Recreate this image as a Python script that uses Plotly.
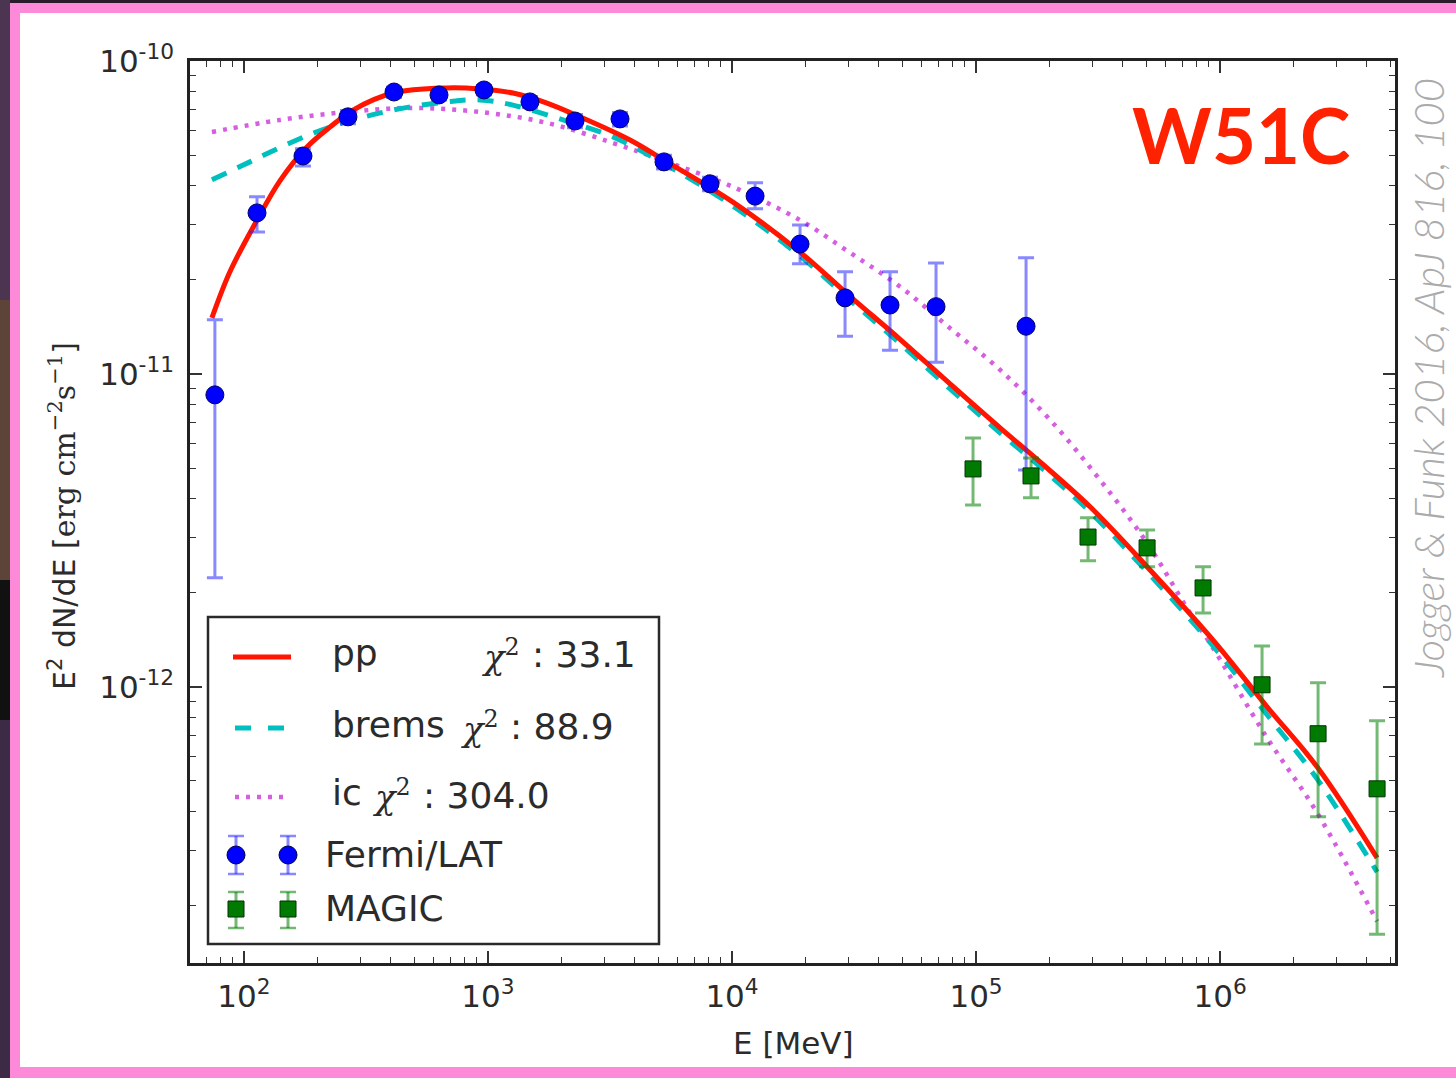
import plotly.graph_objects as go
import math

# ---------------- data ----------------
fermi_E = [76.0, 113.1, 174.5, 266.8, 411.9, 629.9, 963.0, 1486, 2273, 3475,
           5264, 8124, 12430, 19000, 29050, 44410, 68550, 160300]
fermi_F = [8.57e-12, 3.27e-11, 4.97e-11, 6.63e-11, 7.96e-11, 7.79e-11, 8.08e-11,
           7.40e-11, 6.43e-11, 6.53e-11, 4.76e-11, 4.05e-11, 3.70e-11, 2.60e-11,
           1.75e-11, 1.66e-11, 1.64e-11, 1.42e-11]
fermi_hi = [1.49e-11, 3.68e-11, 5.24e-11, 6.95e-11, 8.25e-11, 8.05e-11, 8.35e-11,
            7.70e-11, 6.75e-11, 6.85e-11, 5.00e-11, 4.25e-11, 4.08e-11, 2.99e-11,
            2.12e-11, 2.12e-11, 2.26e-11, 2.35e-11]
fermi_lo = [2.23e-12, 2.84e-11, 4.62e-11, 6.30e-11, 7.65e-11, 7.50e-11, 7.80e-11,
            7.10e-11, 6.12e-11, 6.20e-11, 4.52e-11, 3.85e-11, 3.37e-11, 2.25e-11,
            1.32e-11, 1.19e-11, 1.09e-11, 4.93e-12]

magic_E = [97200, 168000, 287700, 502200, 851700, 1.486e6, 2.521e6, 4.399e6]
magic_F = [4.97e-12, 4.72e-12, 3.01e-12, 2.78e-12, 2.07e-12, 1.015e-12, 7.08e-13, 4.72e-13]
magic_hi = [6.24e-12, 5.39e-12, 3.47e-12, 3.17e-12, 2.42e-12, 1.35e-12, 1.03e-12, 7.79e-13]
magic_lo = [3.81e-12, 4.02e-12, 2.53e-12, 2.42e-12, 1.72e-12, 6.57e-13, 3.84e-13, 1.62e-13]

pp_E = [73.9, 87.6, 113.1, 140.4, 181.2, 225.2, 279.7, 408.1, 679.2, 927.3, 1266, 1745,
        2382, 3819, 5414, 10090, 19000, 30450, 48820, 78250, 125450, 182950, 293300,
        502200, 936100, 1.558e6, 2.497e6, 4.399e6]
pp_F = [1.51e-11, 2.12e-11, 3.10e-11, 4.14e-11, 5.31e-11, 6.15e-11, 6.97e-11, 7.90e-11,
        8.20e-11, 8.14e-11, 7.90e-11, 7.34e-11, 6.63e-11, 5.59e-11, 4.76e-11, 3.54e-11,
        2.45e-11, 1.77e-11, 1.29e-11, 9.29e-12, 6.72e-12, 5.23e-12, 3.76e-12, 2.42e-12,
        1.41e-12, 8.63e-13, 5.55e-13, 2.84e-13]

brems_E = [73.9, 105.8, 154.3, 225.2, 408.1, 679.2, 927.3, 1266, 2030, 3253, 5214, 10090,
           19000, 30450, 48820, 78250, 125450, 182950, 293300, 502200, 936100, 1.558e6,
           2.497e6, 4.399e6]
brems_F = [4.17e-11, 4.76e-11, 5.47e-11, 6.15e-11, 6.97e-11, 7.40e-11, 7.51e-11, 7.23e-11,
           6.48e-11, 5.72e-11, 4.72e-11, 3.44e-11, 2.38e-11, 1.72e-11, 1.25e-11, 8.96e-12,
           6.48e-12, 5.05e-12, 3.62e-12, 2.33e-12, 1.35e-12, 8.14e-13, 5.08e-13, 2.56e-13]

ic_E = [73.9, 140.4, 264.3, 492.7, 927.3, 1745, 3253, 5414, 10090, 19000, 30450, 48820,
        78250, 125450, 201100, 322300, 502200, 753400, 936100, 1.529e6, 2.497e6, 4.399e6]
ic_F = [5.93e-11, 6.48e-11, 6.87e-11, 7.08e-11, 6.87e-11, 6.34e-11, 5.47e-11, 4.76e-11,
        3.96e-11, 3.10e-11, 2.44e-11, 1.90e-11, 1.40e-11, 1.03e-11, 7.13e-12, 4.58e-12,
        2.88e-12, 1.72e-12, 1.33e-12, 7.03e-13, 3.96e-13, 1.78e-13]

x_tick_vals = [1e2, 1e3, 1e4, 1e5, 1e6]
x_tick_text = ["10<sup>2</sup>", "10<sup>3</sup>", "10<sup>4</sup>", "10<sup>5</sup>", "10<sup>6</sup>"]
y_tick_vals = [1e-12, 1e-11, 1e-10]
y_tick_text = ["10<sup>-12</sup>", "10<sup>-11</sup>", "10<sup>-10</sup>"]

x_range = [60.1, 5.21e6]
y_range = [1.31e-13, 1e-10]

legend_rows = [
    ("pp", "33.1"),
    ("brems", "88.9"),
    ("ic", "304.0"),
]

# ---------------- layout helpers ----------------
L, R, T, B = 190, 1395, 61, 963
W, H = 1456, 1078


def px(x):
    return (x - L) / (R - L)


def py(y):
    return (B - y) / (B - T)


IC_COL = "rgba(200,40,215,0.75)"
fig = go.Figure()

# model curves
fig.add_trace(go.Scatter(x=ic_E, y=ic_F, mode="lines", line_shape="spline",
                         line=dict(color=IC_COL, width=4.5, dash="4px,7px"),
                         showlegend=False))
fig.add_trace(go.Scatter(x=brems_E, y=brems_F, mode="lines", line_shape="spline",
                         line=dict(color="#00bfbf", width=5, dash="16px,12px"),
                         showlegend=False))
fig.add_trace(go.Scatter(x=pp_E, y=pp_F, mode="lines", line_shape="spline",
                         line=dict(color="#ff1500", width=5), showlegend=False))

# data points
fig.add_trace(go.Scatter(
    x=fermi_E, y=fermi_F, mode="markers",
    marker=dict(symbol="circle", size=18, color="#0000ff", line=dict(color="#000066", width=1)),
    error_y=dict(type="data", symmetric=False,
                 array=[h - f for h, f in zip(fermi_hi, fermi_F)],
                 arrayminus=[f - l for f, l in zip(fermi_F, fermi_lo)],
                 color="rgba(40,40,255,0.55)", thickness=3, width=8),
    showlegend=False))
fig.add_trace(go.Scatter(
    x=magic_E, y=magic_F, mode="markers",
    marker=dict(symbol="square", size=16, color="#007a00", line=dict(color="#003300", width=1)),
    error_y=dict(type="data", symmetric=False,
                 array=[h - f for h, f in zip(magic_hi, magic_F)],
                 arrayminus=[f - l for f, l in zip(magic_F, magic_lo)],
                 color="rgba(0,128,0,0.55)", thickness=3, width=8),
    showlegend=False))

shapes = []
# outer frame (dark backdrop and pink border)
for (x0, x1, y0, y1, c) in [
    (0, W, 0, 3, "#2a1a2c"),
    (0, 10, 0, 300, "#4b3550"),
    (0, 10, 300, 580, "#5c4538"),
    (0, 10, 580, 720, "#111111"),
    (0, 10, 720, H, "#3d2b45"),
    (10, W, 3, 13, "#fd8ad9"),
    (10, 20, 3, H, "#fd8ad9"),
    (10, W, 1067, H, "#fd8ad9"),
]:
    shapes.append(dict(type="rect", xref="paper", yref="paper",
                       x0=px(x0), x1=px(x1), y0=py(y1), y1=py(y0),
                       fillcolor=c, line=dict(width=0), layer="above"))

# legend box
shapes.append(dict(type="rect", xref="paper", yref="paper",
                   x0=px(208), x1=px(659), y0=py(944), y1=py(617),
                   fillcolor="white", line=dict(color="#2a2a2a", width=2.5), layer="above"))
shapes.append(dict(type="line", xref="paper", yref="paper", x0=px(233), x1=px(291),
                   y0=py(657), y1=py(657), line=dict(color="#ff1500", width=5), layer="above"))
shapes.append(dict(type="line", xref="paper", yref="paper", x0=px(235), x1=px(284),
                   y0=py(728), y1=py(728), line=dict(color="#00bfbf", width=5, dash="16px,17px"),
                   layer="above"))
shapes.append(dict(type="line", xref="paper", yref="paper", x0=px(235), x1=px(290),
                   y0=py(797), y1=py(797),
                   line=dict(color=IC_COL, width=4.5, dash="4px,7px"), layer="above"))

for (cx, cy, top, bot, ecol, fcol, kind) in [
    (236, 855, 836, 874, "rgba(40,40,255,0.55)", "#0000ff", "circle"),
    (288, 855, 836, 874, "rgba(40,40,255,0.55)", "#0000ff", "circle"),
    (236, 909, 892, 928, "rgba(0,128,0,0.55)", "#007a00", "rect"),
    (288, 909, 892, 928, "rgba(0,128,0,0.55)", "#007a00", "rect"),
]:
    shapes.append(dict(type="line", xref="paper", yref="paper", x0=px(cx), x1=px(cx),
                       y0=py(bot), y1=py(top), line=dict(color=ecol, width=3), layer="above"))
    for yy in (top, bot):
        shapes.append(dict(type="line", xref="paper", yref="paper", x0=px(cx - 8), x1=px(cx + 8),
                           y0=py(yy), y1=py(yy), line=dict(color=ecol, width=2.5), layer="above"))
    r = 9 if kind == "circle" else 8
    shapes.append(dict(type=kind, xref="paper", yref="paper", x0=px(cx - r), x1=px(cx + r),
                       y0=py(cy + r), y1=py(cy - r), fillcolor=fcol,
                       line=dict(color="#000044" if kind == "circle" else "#003300", width=1),
                       layer="above"))

TXT = "#2b2b2b"
ann = []


def text(x, y, s, size=36, xanchor="left", family="DejaVu Sans", color=TXT, **kw):
    ann.append(dict(x=px(x), y=py(y), xref="paper", yref="paper", text=s, showarrow=False,
                    xanchor=xanchor, yanchor="middle",
                    font=dict(family=family, size=size, color=color), **kw))


CHI = "<i>χ</i><sup>2</sup>"
# legend texts
text(330, 652, legend_rows[0][0])
text(480, 655, CHI, family="DejaVu Serif", size=34)
text(530, 655, ": " + legend_rows[0][1])
text(330, 724, legend_rows[1][0])
text(459, 727, CHI, family="DejaVu Serif", size=34)
text(508, 727, ": " + legend_rows[1][1])
text(330, 792, legend_rows[2][0])
text(371, 795, CHI, family="DejaVu Serif", size=34)
text(421, 795, ": " + legend_rows[2][1])
text(323, 854, "Fermi/LAT")
text(323, 908, "MAGIC")

# axis titles
text(793, 1043, "E [MeV]", size=31, xanchor="center")
ann.append(dict(x=px(62), y=py(516), xref="paper", yref="paper",
                text="E<sup>2</sup> dN/dE [<span style='font-family:DejaVu Serif'>erg cm<sup>−2</sup>s<sup>−1</sup></span>]",
                showarrow=False, textangle=-90, xanchor="center", yanchor="middle",
                font=dict(family="DejaVu Sans", size=30, color=TXT)))

# W51C label
ann.append(dict(x=px(1241), y=py(134), xref="paper", yref="paper", text="W51C",
                showarrow=False, xanchor="center", yanchor="middle",
                font=dict(family="Lato", size=76, color="#ff2200", weight="bold")))
# citation
ann.append(dict(x=px(1428), y=py(378), xref="paper", yref="paper",
                text="Jogger &amp; Funk 2016, ApJ 816, 100",
                showarrow=False, textangle=-90, xanchor="center", yanchor="middle",
                font=dict(family="Lato", size=42, color="#ababab", weight=300, style="italic")))

x_minor = [m * 10 ** k for k in range(1, 7) for m in range(2, 10)]
y_minor = [m * 10.0 ** k for k in range(-14, -10) for m in range(2, 10)]

axis_common = dict(showline=True, linecolor="#222222", linewidth=2.5, mirror="allticks",
                   ticks="inside", ticklen=12, tickwidth=1.5, tickcolor="#333333",
                   showgrid=False, zeroline=False,
                   tickfont=dict(family="DejaVu Sans", size=31, color=TXT))

fig.update_xaxes(type="log", range=[math.log10(x_range[0]), math.log10(x_range[1])],
                 tickmode="array", tickvals=x_tick_vals, ticktext=x_tick_text,
                 ticklabelstandoff=4,
                 minor=dict(tickmode="array", tickvals=x_minor, ticks="inside", ticklen=6,
                            tickwidth=1.3, tickcolor="#333333", showgrid=False),
                 **axis_common)
fig.update_yaxes(type="log", range=[math.log10(y_range[0]), math.log10(y_range[1])],
                 tickmode="array", tickvals=y_tick_vals, ticktext=y_tick_text,
                 ticklabelstandoff=7,
                 minor=dict(tickmode="array", tickvals=y_minor, ticks="inside", ticklen=6,
                            tickwidth=1.3, tickcolor="#333333", showgrid=False),
                 **axis_common)

fig.update_layout(width=W, height=H, margin=dict(l=L, r=W - R, t=T, b=H - B),
                  paper_bgcolor="white", plot_bgcolor="white",
                  shapes=shapes, annotations=ann, showlegend=False)

fig.write_html("out.html")
